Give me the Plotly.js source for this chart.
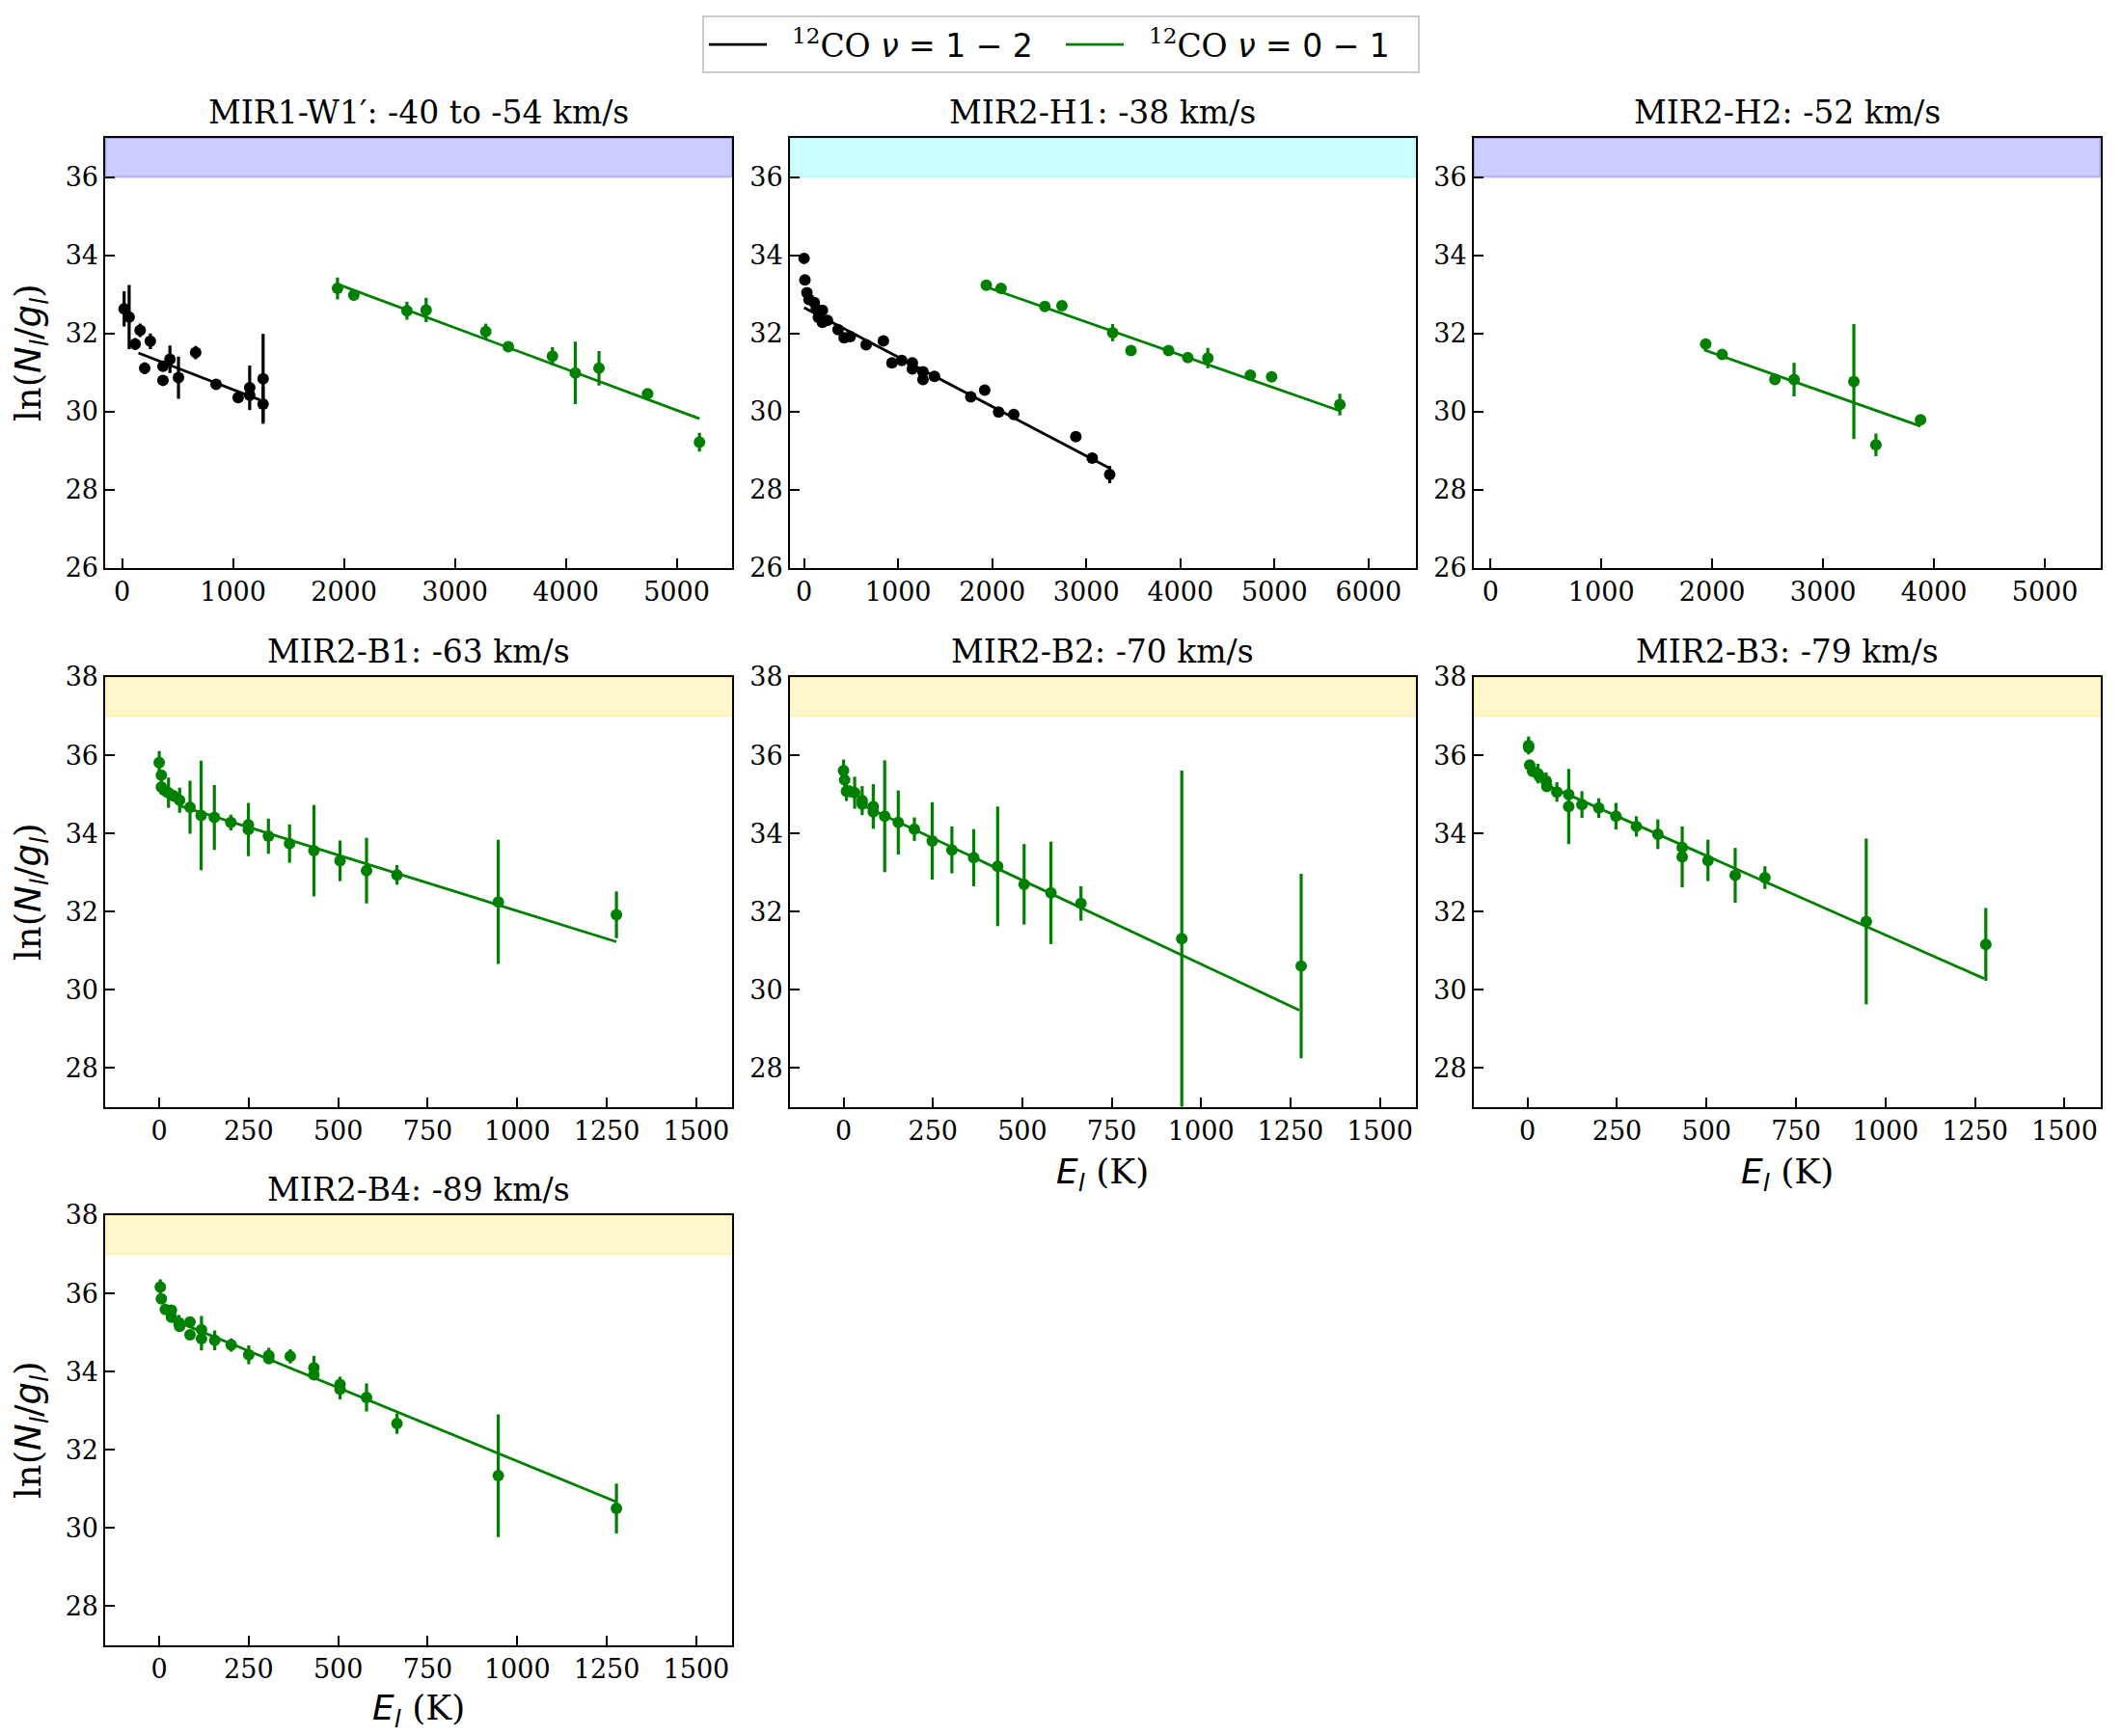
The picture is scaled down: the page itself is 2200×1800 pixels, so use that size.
<!DOCTYPE html>
<html>
<head>
<meta charset="utf-8">
<script src="https://cdn.plot.ly/plotly-3.0.1.min.js"></script>
<style>
html,body{margin:0;padding:0;background:#fff;}
#chart{width:2200px;height:1800px;}
</style>
</head>
<body>
<div id="chart"></div>
<script>
// ---------------- DATA ----------------
const panelTitles = [
  "MIR1-W1′: -40 to -54 km/s",
  "MIR2-H1: -38 km/s",
  "MIR2-H2: -52 km/s",
  "MIR2-B1: -63 km/s",
  "MIR2-B2: -70 km/s",
  "MIR2-B3: -79 km/s",
  "MIR2-B4: -89 km/s"
];
const seriesNames = ["\u00a0\u00a0<sup>12</sup>CO <span style=\"font-family:DejaVu Sans\"><i>ν</i> = 1 − 2</span>",
                     "\u00a0\u00a0<sup>12</sup>CO <span style=\"font-family:DejaVu Sans\"><i>ν</i> = 0 − 1</span>"];

// Panel 1: MIR1-W1'
const p1BlackE   = [18, 63, 118, 162, 203, 254, 368, 368, 431, 508, 663, 847, 1046, 1150, 1150, 1271, 1271];
const p1BlackY   = [32.63, 32.42, 31.73, 32.08, 31.11, 31.80, 31.16, 30.80, 31.34, 30.87, 31.51, 30.70, 30.36, 30.61, 30.42, 30.84, 30.19];
const p1BlackErr = [0.45, 0.82, 0.15, 0.17, 0.15, 0.20, 0.10, 0.10, 0.35, 0.54, 0.17, 0.08, 0.12, 0.57, 0.15, 1.15, 0.45];
const p1BlackFitE = [147, 1242];
const p1BlackFitY = [31.50, 30.30];
const p1GreenE   = [1942, 2089, 2568, 2741, 3279, 3482, 3880, 4086, 4300, 4738, 5206];
const p1GreenY   = [33.15, 32.98, 32.58, 32.60, 32.05, 31.66, 31.42, 30.99, 31.11, 30.46, 29.22];
const p1GreenErr = [0.28, 0.06, 0.23, 0.31, 0.20, 0.08, 0.23, 0.80, 0.44, 0.10, 0.24];
const p1GreenFitE = [1971, 5206];
const p1GreenFitY = [33.23, 29.82];

// Panel 2: MIR2-H1
const p2BlackE   = [0, 9, 30, 52, 109, 130, 195, 152, 195, 248, 361, 426, 491, 660, 843, 934, 1038, 1151, 1151, 1264, 1264, 1386, 1772, 1920, 2068, 2229, 2889, 3063, 3249];
const p2BlackY   = [33.92, 33.37, 33.04, 32.87, 32.79, 32.62, 32.59, 32.41, 32.28, 32.33, 32.10, 31.89, 31.92, 31.71, 31.81, 31.25, 31.31, 31.25, 31.09, 31.02, 30.82, 30.90, 30.38, 30.55, 29.99, 29.93, 29.36, 28.81, 28.39];
const p2BlackErr = [0.04, 0.04, 0.04, 0.04, 0.04, 0.04, 0.04, 0.04, 0.04, 0.04, 0.04, 0.04, 0.04, 0.04, 0.04, 0.04, 0.04, 0.04, 0.04, 0.04, 0.04, 0.04, 0.04, 0.04, 0.04, 0.04, 0.04, 0.05, 0.22];
const p2BlackFitE = [0, 3249];
const p2BlackFitY = [32.66, 28.55];
const p2GreenE   = [1937, 2094, 2559, 2741, 3280, 3475, 3875, 4079, 4292, 4744, 4970, 5695];
const p2GreenY   = [33.23, 33.15, 32.69, 32.71, 32.02, 31.56, 31.56, 31.38, 31.37, 30.93, 30.89, 30.18];
const p2GreenErr = [0.05, 0.05, 0.05, 0.06, 0.22, 0.05, 0.06, 0.06, 0.26, 0.06, 0.06, 0.28];
const p2GreenFitE = [1937, 5695];
const p2GreenFitY = [33.19, 30.02];

// Panel 3: MIR2-H2
const p3GreenE   = [1941, 2089, 2565, 2738, 3277, 3476, 3878];
const p3GreenY   = [31.73, 31.46, 30.82, 30.82, 30.77, 29.15, 29.79];
const p3GreenErr = [0.06, 0.06, 0.06, 0.43, 1.47, 0.29, 0.06];
const p3GreenFitE = [1926, 3878];
const p3GreenFitY = [31.58, 29.63];

// Panel 4: MIR2-B1
const p4GreenE   = [0, 6, 6, 15, 26, 40, 57, 86, 117, 154, 200, 249, 249, 305, 364, 432, 505, 579, 664, 947, 1277];
const p4GreenY   = [35.81, 35.49, 35.19, 35.10, 35.04, 34.96, 34.85, 34.67, 34.46, 34.41, 34.28, 34.22, 34.10, 33.93, 33.74, 33.56, 33.30, 33.05, 32.94, 32.25, 31.92];
const p4GreenErr = [0.30, 0.10, 0.20, 0.15, 0.39, 0.15, 0.32, 0.68, 1.40, 0.83, 0.20, 0.10, 0.68, 0.45, 0.49, 1.17, 0.52, 0.84, 0.25, 1.59, 0.60];
const p4GreenFitE = [60, 1277];
const p4GreenFitY = [34.70, 31.23];

// Panel 5: MIR2-B2
const p5GreenE   = [0, 3, 8, 17, 31, 52, 52, 83, 83, 115, 153, 198, 248, 303, 364, 431, 505, 580, 664, 946, 1280];
const p5GreenY   = [35.61, 35.37, 35.08, 35.08, 35.04, 34.84, 34.75, 34.69, 34.55, 34.44, 34.28, 34.11, 33.81, 33.58, 33.38, 33.16, 32.70, 32.48, 32.21, 31.31, 30.61];
const p5GreenErr = [0.28, 0.30, 0.25, 0.15, 0.41, 0.37, 0.10, 0.57, 0.10, 1.43, 0.82, 0.30, 0.99, 0.60, 0.73, 1.53, 1.03, 1.31, 0.44, 4.30, 2.36];
const p5GreenFitE = [60, 1275];
const p5GreenFitY = [34.69, 29.48];

// Panel 6: MIR2-B3
const p6GreenE   = [3, 3, 6, 14, 29, 34, 52, 54, 82, 115, 115, 152, 199, 247, 304, 364, 432, 432, 504, 580, 663, 946, 1280];
const p6GreenY   = [36.25, 36.20, 35.75, 35.59, 35.53, 35.45, 35.34, 35.20, 35.06, 35.00, 34.69, 34.74, 34.65, 34.44, 34.18, 33.98, 33.64, 33.40, 33.31, 32.93, 32.87, 31.75, 31.16];
const p6GreenErr = [0.23, 0.10, 0.10, 0.10, 0.25, 0.10, 0.22, 0.10, 0.25, 0.15, 0.96, 0.34, 0.25, 0.34, 0.26, 0.38, 0.15, 0.78, 0.53, 0.70, 0.29, 2.12, 0.93];
const p6GreenFitE = [60, 1275];
const p6GreenFitY = [35.21, 30.29];

// Panel 7: MIR2-B4
const p7GreenE   = [3, 6, 17, 34, 34, 55, 57, 86, 86, 118, 118, 155, 201, 250, 306, 306, 366, 432, 432, 505, 505, 579, 664, 947, 1277];
const p7GreenY   = [36.16, 35.86, 35.59, 35.57, 35.39, 35.25, 35.16, 35.27, 34.94, 35.07, 34.84, 34.80, 34.68, 34.43, 34.41, 34.33, 34.39, 34.10, 33.92, 33.67, 33.55, 33.34, 32.67, 31.34, 30.50];
const p7GreenErr = [0.20, 0.10, 0.10, 0.10, 0.10, 0.20, 0.10, 0.10, 0.10, 0.35, 0.30, 0.25, 0.17, 0.24, 0.20, 0.10, 0.18, 0.30, 0.10, 0.20, 0.26, 0.36, 0.26, 1.57, 0.64];
const p7GreenFitE = [60, 1277];
const p7GreenFitY = [35.24, 30.67];

// Axis settings (ranges / ticks)
const xRangeWide1 = [-150, 5500];
const xRangeWide2 = [-150, 6500];
const xRangeLow   = [-150, 1600];
const yRangeTop   = [26, 37];
const yRangeLow   = [27, 38];
const bandTop     = [36, 37];
const bandLow     = [37, 38];

// ---------------- LAYOUT / STYLE ----------------
const W = 2200, H = 1800;
const BLACK = '#000000', GREEN = '#008000';
const colsPx = [[109.4, 759], [819, 1467.6], [1528, 2177.6]];
const rowsPx = [[143, 589], [702, 1148], [1260, 1706]];
const xd = c => [colsPx[c][0] / W, colsPx[c][1] / W];
const yd = r => [1 - rowsPx[r][1] / H, 1 - rowsPx[r][0] / H];

const panels = [
  {r:0, c:0, xr:xRangeWide1, xdt:1000, yr:yRangeTop, band:bandTop, bandCol:'0,0,255'},
  {r:0, c:1, xr:xRangeWide2, xdt:1000, yr:yRangeTop, band:bandTop, bandCol:'0,255,255'},
  {r:0, c:2, xr:xRangeWide1, xdt:1000, yr:yRangeTop, band:bandTop, bandCol:'0,0,255'},
  {r:1, c:0, xr:xRangeLow, xdt:250, yr:yRangeLow, band:bandLow, bandCol:'255,215,0'},
  {r:1, c:1, xr:xRangeLow, xdt:250, yr:yRangeLow, band:bandLow, bandCol:'255,215,0'},
  {r:1, c:2, xr:xRangeLow, xdt:250, yr:yRangeLow, band:bandLow, bandCol:'255,215,0'},
  {r:2, c:0, xr:xRangeLow, xdt:250, yr:yRangeLow, band:bandLow, bandCol:'255,215,0'}
];

const serif = 'DejaVu Serif, Liberation Serif, serif';
const tickFont = {family: serif, size: 27, color: '#000'};

const traces = [];
function pts(i, E, Y, Err, color) {
  const k = i === 0 ? '' : String(i + 1);
  traces.push({
    type: 'scatter', mode: 'markers', x: E, y: Y,
    xaxis: 'x' + k, yaxis: 'y' + k, showlegend: false,
    marker: {color: color, size: 12, line: {width: 0}},
    error_y: {type: 'data', array: Err, visible: true, color: color, thickness: 3.2, width: 0}
  });
}
function fit(i, E, Y, color, name, show) {
  const k = i === 0 ? '' : String(i + 1);
  traces.push({
    type: 'scatter', mode: 'lines', x: E, y: Y,
    xaxis: 'x' + k, yaxis: 'y' + k,
    line: {color: color, width: 2.8},
    name: name || '', showlegend: !!show
  });
}

pts(0, p1BlackE, p1BlackY, p1BlackErr, BLACK);
fit(0, p1BlackFitE, p1BlackFitY, BLACK, seriesNames[0], true);
pts(0, p1GreenE, p1GreenY, p1GreenErr, GREEN);
fit(0, p1GreenFitE, p1GreenFitY, GREEN, seriesNames[1], true);

pts(1, p2BlackE, p2BlackY, p2BlackErr, BLACK);
fit(1, p2BlackFitE, p2BlackFitY, BLACK);
pts(1, p2GreenE, p2GreenY, p2GreenErr, GREEN);
fit(1, p2GreenFitE, p2GreenFitY, GREEN);

pts(2, p3GreenE, p3GreenY, p3GreenErr, GREEN);
fit(2, p3GreenFitE, p3GreenFitY, GREEN);

pts(3, p4GreenE, p4GreenY, p4GreenErr, GREEN);
fit(3, p4GreenFitE, p4GreenFitY, GREEN);

pts(4, p5GreenE, p5GreenY, p5GreenErr, GREEN);
fit(4, p5GreenFitE, p5GreenFitY, GREEN);

pts(5, p6GreenE, p6GreenY, p6GreenErr, GREEN);
fit(5, p6GreenFitE, p6GreenFitY, GREEN);

pts(6, p7GreenE, p7GreenY, p7GreenErr, GREEN);
fit(6, p7GreenFitE, p7GreenFitY, GREEN);

const layout = {
  width: W, height: H,
  margin: {l: 0, r: 0, t: 0, b: 0},
  paper_bgcolor: '#fff', plot_bgcolor: '#fff',
  hovermode: false,
  font: {family: serif, color: '#000'},
  showlegend: true,
  legend: {
    orientation: 'h', x: 0.5, xanchor: 'center', y: 0.991, yanchor: 'top',
    bordercolor: '#cccccc', borderwidth: 2, bgcolor: '#fff',
    font: {family: serif, size: 33, color: '#000'},
    itemwidth: 60, entrywidth: 295, entrywidthmode: 'pixels', tracegroupgap: 0
  },
  shapes: [],
  annotations: []
};

panels.forEach((p, i) => {
  const k = i === 0 ? '' : String(i + 1);
  layout['xaxis' + k] = {
    domain: xd(p.c), anchor: 'y' + k, range: p.xr, dtick: p.xdt, tick0: 0,
    showline: true, linecolor: '#000', linewidth: 2, mirror: true,
    ticks: 'inside', ticklen: 10, tickwidth: 2, tickcolor: '#000',
    showgrid: false, zeroline: false, tickfont: tickFont
  };
  layout['yaxis' + k] = {
    domain: yd(p.r), anchor: 'x' + k, range: p.yr, dtick: 2, tick0: 0,
    showline: true, linecolor: '#000', linewidth: 2, mirror: true,
    ticks: 'inside', ticklen: 10, tickwidth: 2, tickcolor: '#000',
    showgrid: false, zeroline: false, tickfont: tickFont
  };
  layout.shapes.push({
    type: 'rect', xref: 'x' + k + ' domain', yref: 'y' + k,
    x0: 0, x1: 1, y0: p.band[0], y1: p.band[1], layer: 'below',
    fillcolor: 'rgba(' + p.bandCol + ',0.2)',
    line: {color: 'rgba(' + p.bandCol + ',0.22)', width: 2}
  });
  const xdm = xd(p.c), ydm = yd(p.r);
  layout.annotations.push({
    text: panelTitles[i], xref: 'paper', yref: 'paper',
    x: (xdm[0] + xdm[1]) / 2, y: ydm[1], xanchor: 'center', yanchor: 'bottom',
    yshift: 5, showarrow: false, font: {family: serif, size: 33, color: '#000'}
  });
});

// Axis titles
const yLabel = 'ln(<span style="font-family:DejaVu Sans"><i>N</i><sub><i>l</i></sub>/<i>g</i><sub><i>l</i></sub></span>)';
const xLabel = '<span style="font-family:DejaVu Sans"><i>E</i><sub><i>l</i></sub></span> (K)';
[0, 1, 2].forEach(r => {
  const ydm = yd(r);
  layout.annotations.push({
    text: yLabel, xref: 'paper', yref: 'paper', x: 32 / W, y: (ydm[0] + ydm[1]) / 2,
    xanchor: 'center', yanchor: 'middle', textangle: -90, showarrow: false,
    font: {family: serif, size: 37, color: '#000'}
  });
});
[[1, 1, 1217], [1, 2, 1217], [2, 0, 1773]].forEach(([r, c, py]) => {
  const xdm = xd(c);
  layout.annotations.push({
    text: xLabel, xref: 'paper', yref: 'paper', x: (xdm[0] + xdm[1]) / 2, y: 1 - py / H,
    xanchor: 'center', yanchor: 'middle', showarrow: false,
    font: {family: serif, size: 36, color: '#000'}
  });
});

Plotly.newPlot('chart', traces, layout, {staticPlot: true, displayModeBar: false});
</script>
</body>
</html>
